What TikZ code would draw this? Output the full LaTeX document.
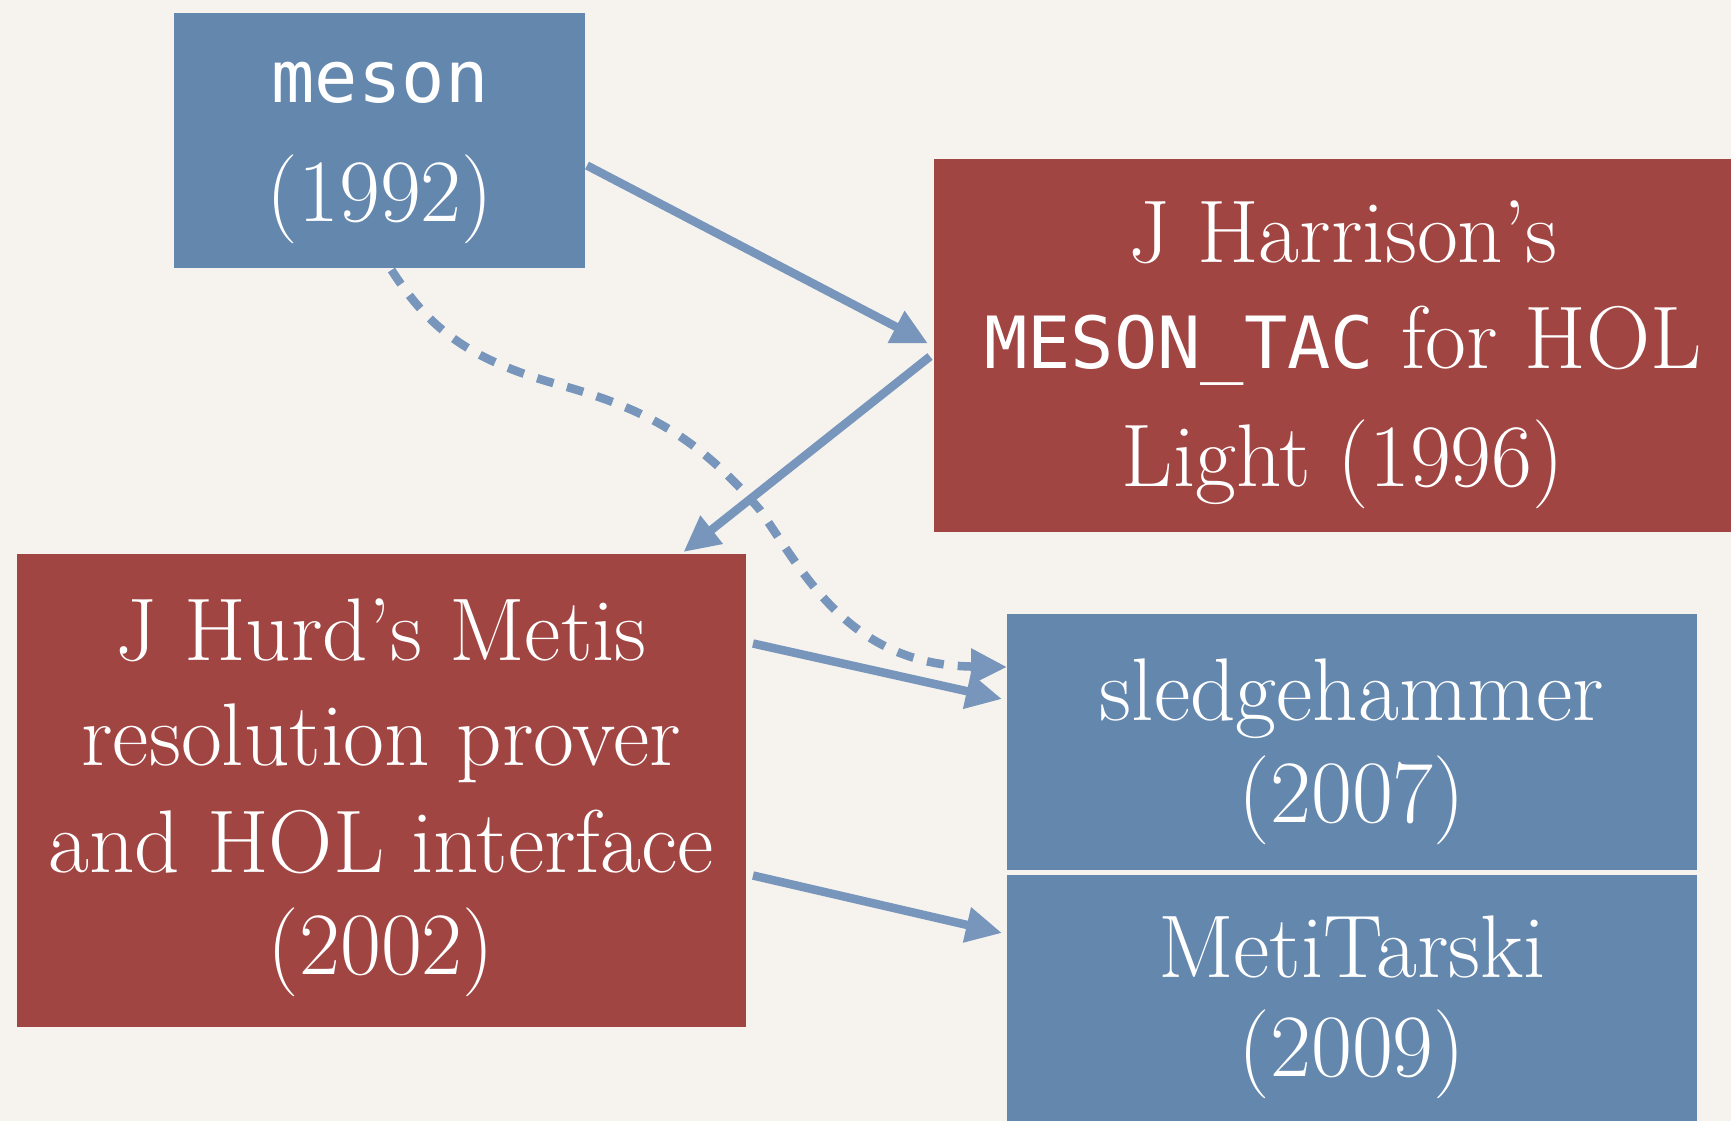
\documentclass[tikz,border=0pt]{standalone}
\usepackage{fontspec}
\setmainfont{Latin Modern Roman}
\newfontfamily\monofont{DejaVu Sans Mono}
\usetikzlibrary{arrows.meta,calc}
\definecolor{bgcol}{RGB}{246,243,238}
\definecolor{boxblue}{RGB}{100,135,174}
\definecolor{boxred}{RGB}{161,69,67}
\definecolor{arrowblue}{RGB}{120,150,187}
\begin{document}
\begin{tikzpicture}[x=1pt,y=-1pt,
  box/.style={rectangle, inner sep=0pt, outer sep=0pt},
  bluebox/.style={box, fill=boxblue},
  redbox/.style={box, fill=boxred},
  txt/.style={anchor=base, text=white, inner sep=0pt, font=\fontsize{89}{100}\selectfont},
  monotxt/.style={anchor=base, text=white, inner sep=0pt, font=\fontsize{72}{86}\selectfont\monofont},
  conn/.style={draw=arrowblue, line width=8.5pt, -{Triangle[length=36pt,width=34pt]}},
  dashconn/.style={conn, dash pattern=on 17pt off 14pt}
]
\useasboundingbox (0,0) rectangle (1731,1121);
\clip (0,0) rectangle (1731,1121);
\fill[bgcol] (0,0) rectangle (1731,1121);

% boxes
\node[bluebox, minimum width=411pt, minimum height=255pt] (meson) at (379.5,140.5) {};
\node[redbox, minimum width=826pt, minimum height=373pt] (harrison) at (1347,345.5) {};
\node[redbox, minimum width=729pt, minimum height=473pt] (hurd) at (381.5,790.5) {};
\node[bluebox, minimum width=690pt, minimum height=256pt] (sledge) at (1352,742) {};
\node[bluebox, minimum width=690pt, minimum height=260pt] (meti) at (1352,1005) {};

% texts
\node[monotxt] (mesonA) at (380,103) {meson};
\node[txt] (mesonB) at (380,221) {(1992)};

\node[txt] (harA) at (1343,262) {J Harrison’s};
\node[txt] (harB) at (1343,368) {{\fontsize{72}{86}\selectfont\monofont MESON\_TAC} for HOL};
\node[txt] (harC) at (1343,486) {Light (1996)};

\node[txt] (hurdA) at (381,660) {J Hurd’s Metis};
\node[txt] (hurdB) at (381,765) {resolution prover};
\node[txt] (hurdC) at (381,872) {and HOL interface};
\node[txt] (hurdD) at (381,974) {(2002)};

\node[txt] (sledgeA) at (1352,720) {sledgehammer};
\node[txt] (sledgeB) at (1352,822) {(2007)};

\node[txt] (metiA) at (1352,977) {MetiTarski};
\node[txt] (metiB) at (1352,1076) {(2009)};

% connectors
\draw[conn] ($(meson.east)+(2,25)$) -- ($(harrison.west)+(-6,-2)$);
\draw[conn] ($(harrison.west)+(-4,11)$) -- ($(hurd.north)+(302,-2)$);
\draw[conn] ($(hurd.east)+(7,-147)$) -- ($(sledge.west)+(-5,-43)$);
\draw[conn] ($(hurd.east)+(7,85)$) -- ($(meti.west)+(-5,-72)$);
\draw[dashconn] ($(meson.south)+(12,2)$) .. controls (430,330) and (470,360) .. (560,385)
  .. controls (650,410) and (700,440) .. (760,510)
  .. controls (805,575) and (850,665) .. ($(sledge.west)+(0,-75)$);
\end{tikzpicture}
\end{document}
